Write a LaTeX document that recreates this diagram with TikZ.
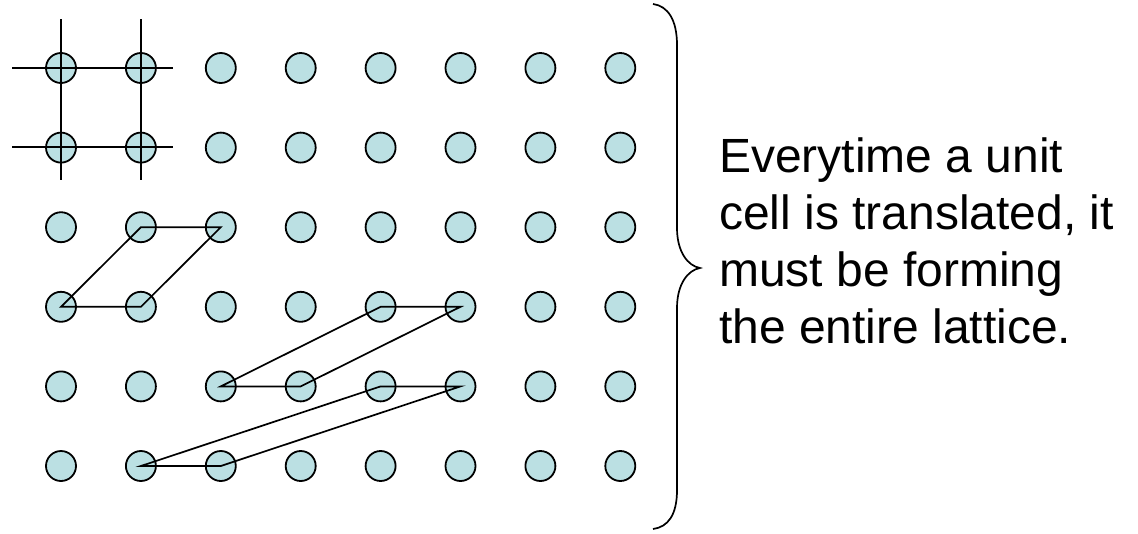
\documentclass[tikz,border=0pt]{standalone}
\usepackage{fontspec}
\setmainfont{Liberation Sans}
\definecolor{atom}{RGB}{187,224,227}
\begin{document}
\begin{tikzpicture}[x=1pt,y=-1pt,
  atomdot/.style={circle,draw=black,line width=1.8pt,fill=atom,minimum size=30pt,inner sep=0pt},
  cellline/.style={line width=1.7pt,black},
  label/.style={anchor=base west,inner sep=0pt,font=\fontsize{48}{57}\selectfont}]
\useasboundingbox (0,0) rectangle (1138,533);
% lattice points: 8 columns, 6 rows
\foreach \i in {1,...,8}{
  \foreach \j in {1,...,6}{
    \node[atomdot] (c-\i-\j) at ({61+79.9*(\i-1)},{68+79.6*(\j-1)}) {};
  }
}
% square cell: grid lines through the top-left four points
\coordinate (v1t) at (61,19);  \coordinate (v1b) at (61,180);
\coordinate (v2t) at (141,19); \coordinate (v2b) at (141,180);
\coordinate (h1l) at (12,68);  \coordinate (h1r) at (173,68);
\coordinate (h2l) at (12,147); \coordinate (h2r) at (173,147);
\draw[cellline] (v1t) -- (v1b);
\draw[cellline] (v2t) -- (v2b);
\draw[cellline] (h1l) -- (h1r);
\draw[cellline] (h2l) -- (h2r);
% oblique cells
\draw[cellline] (c-1-4.center) -- (c-2-3.center) -- (c-3-3.center) -- (c-2-4.center) -- cycle;
\draw[cellline] (c-3-5.center) -- (c-5-4.center) -- (c-6-4.center) -- (c-4-5.center) -- cycle;
\draw[cellline] (c-2-6.center) -- (c-5-5.center) -- (c-6-5.center) -- (c-3-6.center) -- cycle;
% curly brace
\draw[line width=1.7pt] (653,4) .. controls (668,6) and (677,20) .. (677,45)
  -- (677,228) .. controls (677,252) and (688,266) .. (700,268)
  .. controls (688,270) and (677,284) .. (677,308)
  -- (677,490) .. controls (677,515) and (668,527) .. (653,529);
% explanatory text
\node[label] (t1) at (719,172) {Everytime a unit};
\node[label] (t2) at (719,229) {cell is translated, it};
\node[label] (t3) at (719,286) {must be forming};
\node[label] (t4) at (719,343) {the entire lattice.};
\end{tikzpicture}
\end{document}
